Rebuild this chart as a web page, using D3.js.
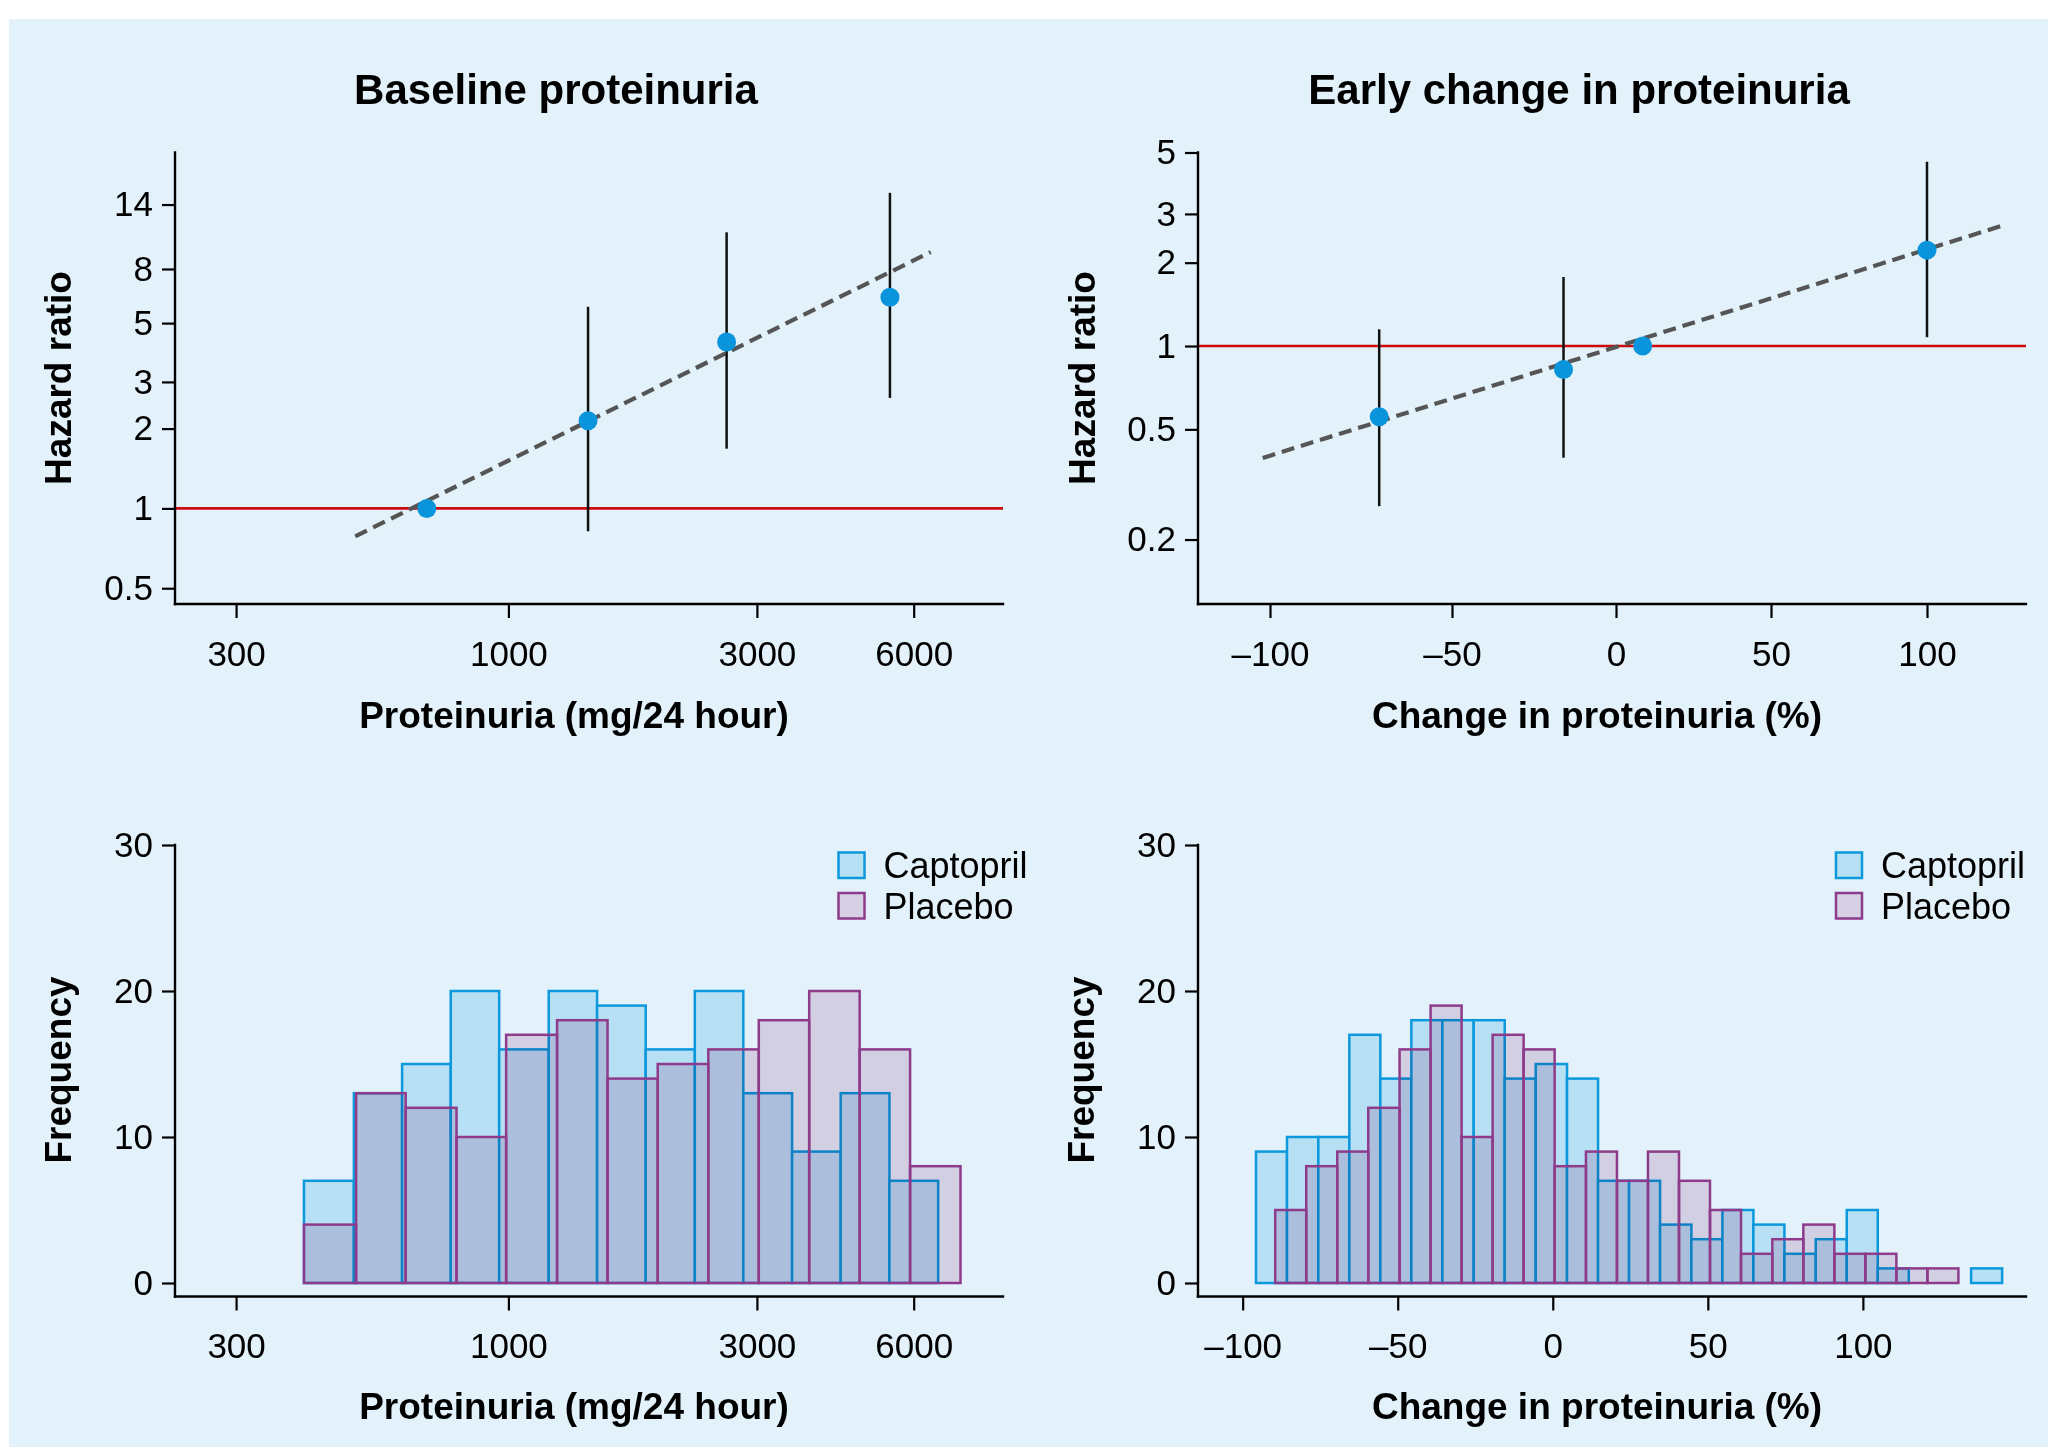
<!DOCTYPE html>
<html>
<head>
<meta charset="utf-8">
<script src="https://cdn.jsdelivr.net/npm/d3@7"></script>
<style>
  body { margin: 0; background: #fff; }
  svg { display: block; }
  text { font-family: "Liberation Sans", Arial, Helvetica, sans-serif; fill: #000; }
</style>
</head>
<body>
<svg width="2048" height="1450"></svg>
<script>
// ---- data ----

// baseline proteinuria (mg/24 h) vs hazard ratio
var baseX  = [697, 1422, 2624, 5402];
var baseHR = [1, 2.14, 4.24, 6.26];
var baseLo = [null, 0.82, 1.68, 2.61];
var baseHi = [null, 5.76, 11.0, 15.5];
var baseFitX  = [508, 6470];
var baseFitHR = [0.785, 9.27];

// early change in proteinuria (%) vs hazard ratio
var changeX  = [-70, -16, 8.6, 100];
var changeHR = [0.555, 0.822, 1.0, 2.22];
var changeLo = [0.264, 0.395, null, 1.076];
var changeHi = [1.149, 1.775, null, 4.63];
var changeFitX  = [-102, 124.5];
var changeFitHR = [0.394, 2.73];

// ticks
var baseXTicks   = [300, 1000, 3000, 6000];
var baseYTicks   = [0.5, 1, 2, 3, 5, 8, 14];
var changeXTicks = [-100, -50, 0, 50, 100];
var changeYTicks = [0.2, 0.5, 1, 2, 3, 5];
var freqTicks    = [0, 10, 20, 30];

// histograms, bin edges + counts
var capBaseEdges  = [405, 505, 625, 775, 960, 1195, 1480, 1835, 2280, 2825, 3505, 4345, 5390, 6685];
var capBaseCounts = [7, 13, 15, 20, 16, 20, 19, 16, 20, 13, 9, 13, 7];
var plaBaseEdges  = [405, 510, 635, 795, 990, 1240, 1550, 1935, 2420, 3025, 3780, 4725, 5905, 7380];
var plaBaseCounts = [4, 13, 12, 10, 17, 18, 14, 15, 16, 18, 20, 16, 8];

var capChangeEdges  = [-95.7, -85.7, -75.6, -65.6, -55.6, -45.6, -35.6, -25.5, -15.5, -5.5, 4.6, 14.6,
                       24.6, 34.6, 44.7, 54.7, 64.7, 74.7, 84.8, 94.8, 104.8, 114.8, 124.9, 134.9, 144.9];
var capChangeCounts = [9, 10, 10, 17, 14, 18, 18, 18, 14, 15, 14, 7, 7, 4, 3, 5, 4, 2, 3, 5, 1, 0, 0, 1];
var plaChangeEdges  = [-89.5, -79.5, -69.5, -59.5, -49.4, -39.4, -29.4, -19.4, -9.4, 0.6, 10.7, 20.7,
                       30.7, 40.7, 50.7, 60.7, 70.8, 80.8, 90.8, 100.8, 110.8, 120.8, 130.8];
var plaChangeCounts = [5, 8, 9, 12, 16, 19, 10, 17, 16, 8, 9, 7, 9, 7, 5, 2, 3, 4, 2, 2, 1, 1];

var groups = ["Captopril", "Placebo"];

// ---- layout ----
var svg = d3.select("svg");
var colL = [175, 1003], colR = [1198, 2026];
var topRange = [604, 152.5];
var histBase = 1283, histTop = 845, histAxisY = 1296.5;

var capStroke = "#0c98dc", capFill = "#b8e0f4";
var plaStroke = "#8e3b8b", plaFill = "#eddae7";   // multiplied over the background
var dotColor = "#0a94dc";

svg.append("rect")
    .attr("x", 9).attr("y", 19)
    .attr("width", 2039).attr("height", 1428)
    .attr("fill", "#e3f2fa");

// scales
var xBase = d3.scaleLog().domain([229, 8905]).range(colL);
var yBaseHR = d3.scaleLog().domain([0.436, 22]).range(topRange);
// the top right axis is not evenly spaced in the original
var xChangeTop = d3.scaleLinear().domain(changeXTicks).range([1270, 1452, 1616, 1771, 1927]);
var yChangeHR = d3.scaleLog().domain([0.117, 5]).range(topRange);
var yFreq = d3.scaleLinear().domain([0, 30]).range([histBase, histTop]);
var xChange = d3.scaleLinear().domain([-114.4, 152.6]).range(colR);

var fmtSigned = function(d) { return d < 0 ? "\u2013" + (-d) : "" + d; };

function styleAxis(g) {
  g.select(".domain").remove();
  g.attr("font-family", null).attr("font-size", null);
  g.selectAll(".tick line").attr("stroke", "#000").attr("stroke-width", 2.2);
  g.selectAll(".tick text")
      .attr("fill", "#000")
      .style("font-size", "35px");
}

function axes(x, y, xTicks, yTicks, xFmt, yFmt, left, right, top, axisY) {
  svg.append("g")
      .attr("transform", "translate(0," + axisY + ")")
      .call(d3.axisBottom(x).tickValues(xTicks).tickFormat(xFmt).tickSize(14).tickPadding(23))
      .call(styleAxis);
  svg.append("g")
      .attr("transform", "translate(" + left + ",0)")
      .call(d3.axisLeft(y).tickValues(yTicks).tickFormat(yFmt).tickSize(13).tickPadding(9))
      .call(styleAxis);

  svg.append("line")
      .attr("x1", left).attr("x2", right)
      .attr("y1", axisY).attr("y2", axisY)
      .attr("stroke", "#000").attr("stroke-width", 2.4).attr("stroke-linecap", "square");
  svg.append("line")
      .attr("x1", left).attr("x2", left)
      .attr("y1", top).attr("y2", axisY)
      .attr("stroke", "#000").attr("stroke-width", 2.4).attr("stroke-linecap", "square");
}

function labels(title, titleX, xLabel, xLabelX, xLabelY, yLabel, yLabelX, yLabelY) {
  if (title) {
    svg.append("text")
        .attr("x", titleX).attr("y", 104)
        .attr("text-anchor", "middle")
        .style("font-size", "42px").style("font-weight", "bold")
        .text(title);
  }
  svg.append("text")
      .attr("x", xLabelX).attr("y", xLabelY)
      .attr("text-anchor", "middle")
      .style("font-size", "37px").style("font-weight", "bold")
      .text(xLabel);
  svg.append("text")
      .attr("transform", "translate(" + yLabelX + "," + yLabelY + ") rotate(-90)")
      .attr("text-anchor", "middle")
      .style("font-size", "37px").style("font-weight", "bold")
      .text(yLabel);
}

function forest(x, y, xs, hr, lo, hi, fitX, fitHR, left, right) {
  // reference line at HR = 1
  svg.append("line")
      .attr("x1", left).attr("x2", right)
      .attr("y1", y(1)).attr("y2", y(1))
      .attr("stroke", "#cc0a0a").attr("stroke-width", 2.6);

  svg.append("line")
      .attr("x1", x(fitX[0])).attr("y1", y(fitHR[0]))
      .attr("x2", x(fitX[1])).attr("y2", y(fitHR[1]))
      .attr("stroke", "#555").attr("stroke-width", 4.2)
      .attr("stroke-dasharray", "13,7");

  var pts = xs.map(function(d, i) { return { x: d, hr: hr[i], lo: lo[i], hi: hi[i] }; });

  svg.append("g").selectAll("line")
    .data(pts.filter(function(d) { return d.lo != null; }))
    .enter().append("line")
      .attr("x1", function(d) { return x(d.x); })
      .attr("x2", function(d) { return x(d.x); })
      .attr("y1", function(d) { return y(d.lo); })
      .attr("y2", function(d) { return y(d.hi); })
      .attr("stroke", "#111").attr("stroke-width", 2.5);

  svg.append("g").selectAll("circle")
    .data(pts)
    .enter().append("circle")
      .attr("cx", function(d) { return x(d.x); })
      .attr("cy", function(d) { return y(d.hr); })
      .attr("r", 9.5)
      .attr("fill", dotColor);
}

function bins(edges, counts) {
  return counts.map(function(c, i) { return { x0: edges[i], x1: edges[i + 1], n: c }; })
               .filter(function(d) { return d.n > 0; });
}

function histogram(x, capEdges, capCounts, plaEdges, plaCounts, legendX) {
  var cap = bins(capEdges, capCounts), pla = bins(plaEdges, plaCounts);

  svg.append("g").selectAll("rect")
    .data(cap)
    .enter().append("rect")
      .attr("x", function(d) { return x(d.x0); })
      .attr("width", function(d) { return x(d.x1) - x(d.x0); })
      .attr("y", function(d) { return yFreq(d.n); })
      .attr("height", function(d) { return yFreq(0) - yFreq(d.n); })
      .attr("fill", capFill)
      .attr("stroke", capStroke).attr("stroke-width", 2.5);

  // placebo on top, fill multiplied so the captopril outlines show through
  svg.append("g").selectAll("rect")
    .data(pla)
    .enter().append("rect")
      .attr("x", function(d) { return x(d.x0); })
      .attr("width", function(d) { return x(d.x1) - x(d.x0); })
      .attr("y", function(d) { return yFreq(d.n); })
      .attr("height", function(d) { return yFreq(0) - yFreq(d.n); })
      .attr("fill", plaFill)
      .style("mix-blend-mode", "multiply");
  svg.append("g").selectAll("rect")
    .data(pla)
    .enter().append("rect")
      .attr("x", function(d) { return x(d.x0); })
      .attr("width", function(d) { return x(d.x1) - x(d.x0); })
      .attr("y", function(d) { return yFreq(d.n); })
      .attr("height", function(d) { return yFreq(0) - yFreq(d.n); })
      .attr("fill", "none")
      .attr("stroke", plaStroke).attr("stroke-width", 2.5);

  // legend
  var lg = svg.append("g").selectAll("g")
    .data(groups)
    .enter().append("g")
      .attr("transform", function(d, i) { return "translate(" + legendX + "," + (852.5 + i * 40.5) + ")"; });
  lg.append("rect")
      .attr("width", 26).attr("height", 25.5)
      .attr("fill", function(d, i) { return i == 0 ? capFill : "#d5d0e3"; })
      .attr("stroke", function(d, i) { return i == 0 ? capStroke : plaStroke; })
      .attr("stroke-width", 2.5);
  lg.append("text")
      .attr("x", 45).attr("y", 25.5)
      .style("font-size", "36px")
      .text(function(d) { return d; });
}

// ---- top left ----
forest(xBase, yBaseHR, baseX, baseHR, baseLo, baseHi, baseFitX, baseFitHR, colL[0], colL[1]);
axes(xBase, yBaseHR, baseXTicks, baseYTicks, function(d) { return d; }, function(d) { return d; },
     colL[0], colL[1], topRange[1], topRange[0]);
labels("Baseline proteinuria", 556, "Proteinuria (mg/24 hour)", 574, 728, "Hazard ratio", 71, 378);

// ---- top right ----
forest(xChangeTop, yChangeHR, changeX, changeHR, changeLo, changeHi, changeFitX, changeFitHR, colR[0], colR[1]);
axes(xChangeTop, yChangeHR, changeXTicks, changeYTicks, fmtSigned, function(d) { return d; },
     colR[0], colR[1], topRange[1], topRange[0]);
labels("Early change in proteinuria", 1579, "Change in proteinuria (%)", 1597, 728, "Hazard ratio", 1095, 378);

// ---- bottom left ----
histogram(xBase, capBaseEdges, capBaseCounts, plaBaseEdges, plaBaseCounts, 838.5);
axes(xBase, yFreq, baseXTicks, freqTicks, function(d) { return d; }, function(d) { return d; },
     colL[0], colL[1], histTop, histAxisY);
labels(null, 0, "Proteinuria (mg/24 hour)", 574, 1419, "Frequency", 71, 1070);

// ---- bottom right ----
histogram(xChange, capChangeEdges, capChangeCounts, plaChangeEdges, plaChangeCounts, 1836);
axes(xChange, yFreq, changeXTicks, freqTicks, fmtSigned, function(d) { return d; },
     colR[0], colR[1], histTop, histAxisY);
labels(null, 0, "Change in proteinuria (%)", 1597, 1419, "Frequency", 1094, 1070);
</script>
</body>
</html>
